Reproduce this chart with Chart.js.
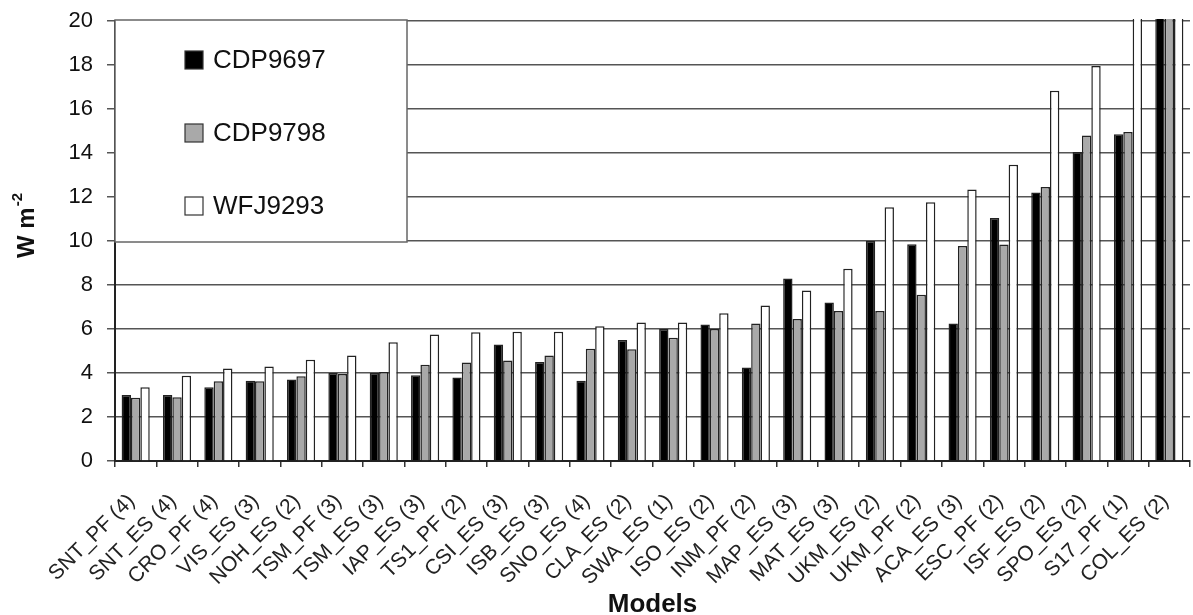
<!DOCTYPE html>
<html lang="en">
  <head>
    <meta charset="UTF-8" />
    <title>Models W m-2</title>
    <style>
      html, body { margin: 0; padding: 0; background: #fff; }
      .chart-box { width: 1193px; height: 615px; position: relative; }
    </style>
  </head>
  <body>
    <div class="chart-box">
      <canvas id="modelChart"></canvas>
    </div>

    <script src="https://cdn.jsdelivr.net/npm/chart.js@4.4.0/dist/chart.umd.min.js"></script>
    <script>
      // Categories (model name + number of runs)
      const models = [
        "SNT_PF (4)", "SNT_ES (4)", "CRO_PF (4)", "VIS_ES (3)", "NOH_ES (2)",
        "TSM_PF (3)", "TSM_ES (3)", "IAP_ES (3)", "TS1_PF (2)", "CSI_ES (3)",
        "ISB_ES (3)", "SNO_ES (4)", "CLA_ES (2)", "SWA_ES (1)", "ISO_ES (2)",
        "INM_PF (2)", "MAP_ES (3)", "MAT_ES (3)", "UKM_ES (2)", "UKM_PF (2)",
        "ACA_ES (3)", "ESC_PF (2)", "ISF_ES (2)", "SPO_ES (2)", "S17_PF (1)",
        "COL_ES (2)",
      ];

      // Series values (W m-2); last ones run off the top
      const cdp9697 = [
        3.0, 3.0, 3.35, 3.65, 3.7, 4.0, 4.0, 3.9, 3.8, 5.3,
        4.5, 3.65, 5.5, 6.0, 6.2, 4.25, 8.3, 7.2, 10.0, 9.85,
        6.25, 11.05, 12.2, 14.05, 14.85, 28,
      ];
      const cdp9798 = [
        2.87, 2.9, 3.63, 3.63, 3.85, 3.95, 4.05, 4.38, 4.48, 4.57,
        4.8, 5.1, 5.08, 5.6, 6.0, 6.25, 6.45, 6.82, 6.82, 7.56,
        9.77, 9.84, 12.45, 14.8, 14.95, 27,
      ];
      const wfj9293 = [
        3.35, 3.88, 4.2, 4.3, 4.6, 4.8, 5.4, 5.75, 5.85, 5.87,
        5.87, 6.12, 6.29, 6.29, 6.72, 7.07, 7.75, 8.74, 11.53, 11.76,
        12.34, 13.47, 16.83, 17.96, 25, 30,
      ];

      // Y tick values
      const yTicks = [0, 2, 4, 6, 8, 10, 12, 14, 16, 18, 20];

      const FONT = "'Liberation Sans', Arial, sans-serif";

      // Legend drawn as a box inside the plot, top-left
      const boxLegend = {
        id: "boxLegend",
        afterDatasetsDraw(chart) {
          const ctx = chart.ctx;
          const a = chart.chartArea;
          const x = a.left, y = a.top - 1, w = 292, h = 222;
          ctx.save();
          ctx.fillStyle = "#fff";
          ctx.fillRect(x, y, w, h);
          ctx.strokeStyle = "#666";
          ctx.lineWidth = 1.5;
          ctx.strokeRect(x, y, w, h);
          ctx.font = "26px " + FONT;
          ctx.textBaseline = "middle";
          chart.data.datasets.forEach((ds, i) => {
            const cy = y + 40 + i * 73;
            ctx.fillStyle = ds.backgroundColor;
            ctx.fillRect(x + 70, cy - 9, 18, 18);
            ctx.strokeStyle = "#333";
            ctx.lineWidth = 1.2;
            ctx.strokeRect(x + 70, cy - 9, 18, 18);
            ctx.fillStyle = "#111";
            ctx.fillText(ds.label, x + 98, cy + 1);
          });
          ctx.restore();
        },
        afterDraw(chart) {
          // y axis title with superscript
          const ctx = chart.ctx;
          ctx.save();
          ctx.translate(27, 226);
          ctx.rotate(-Math.PI / 2);
          ctx.fillStyle = "#111";
          ctx.textBaseline = "middle";
          ctx.font = "bold 24px " + FONT;
          const main = "W m";
          const mw = ctx.measureText(main).width;
          ctx.font = "bold 15px " + FONT;
          const sw = ctx.measureText("-2").width;
          const start = -(mw + sw) / 2;
          ctx.font = "bold 24px " + FONT;
          ctx.fillText(main, start, 0);
          ctx.font = "bold 15px " + FONT;
          ctx.fillText("-2", start + mw + 1, -9);
          ctx.restore();
        },
      };

      const barStyle = {
        borderColor: "#222",
        borderWidth: 1.5,
        categoryPercentage: 0.68,
        barPercentage: 1.0,
        clip: 2,
      };

      const ctxModel = document.getElementById("modelChart").getContext("2d");
      const modelChart = new Chart(ctxModel, {
        type: "bar",
        data: {
          labels: models,
          datasets: [
            { label: "CDP9697", data: cdp9697, backgroundColor: "#000", ...barStyle },
            { label: "CDP9798", data: cdp9798, backgroundColor: "#a9a9a9", ...barStyle },
            { label: "WFJ9293", data: wfj9293, backgroundColor: "#fff", ...barStyle },
          ],
        },
        options: {
          responsive: true,
          maintainAspectRatio: false,
          animation: false,
          layout: { padding: { top: 21, right: 3, left: 0, bottom: 0 } },
          plugins: {
            legend: { display: false },
            tooltip: { enabled: false },
          },
          scales: {
            y: {
              min: 0,
              max: 20,
              afterFit(s) {
                s.width = 115;
                s.paddingTop = 0;
                s.paddingBottom = 0;
              },
              afterBuildTicks(s) { s.ticks = yTicks.map((v) => ({ value: v })); },
              ticks: {
                color: "#111",
                padding: 14,
                font: { size: 22, family: FONT },
              },
              grid: {
                color: "#555",
                lineWidth: 1.5,
                tickLength: 8,
              },
              border: { color: "#222", width: 2 },
            },
            x: {
              afterFit(s) {
                s.height = 154;
                s.paddingLeft = 0;
                s.paddingRight = 0;
              },
              ticks: {
                color: "#222",
                autoSkip: false,
                maxRotation: 45,
                minRotation: 45,
                padding: 22,
                labelOffset: -4,
                font: { size: 21, family: FONT },
              },
              grid: {
                drawOnChartArea: false,
                color: "#333",
                lineWidth: 1.5,
                tickLength: 6,
              },
              border: { color: "#222", width: 2 },
              title: {
                display: true,
                text: "Models",
                color: "#111",
                padding: { top: 0, bottom: -5 },
                font: { size: 26, weight: "bold", family: FONT },
              },
            },
          },
        },
        plugins: [boxLegend],
      });
    </script>
  </body>
</html>
